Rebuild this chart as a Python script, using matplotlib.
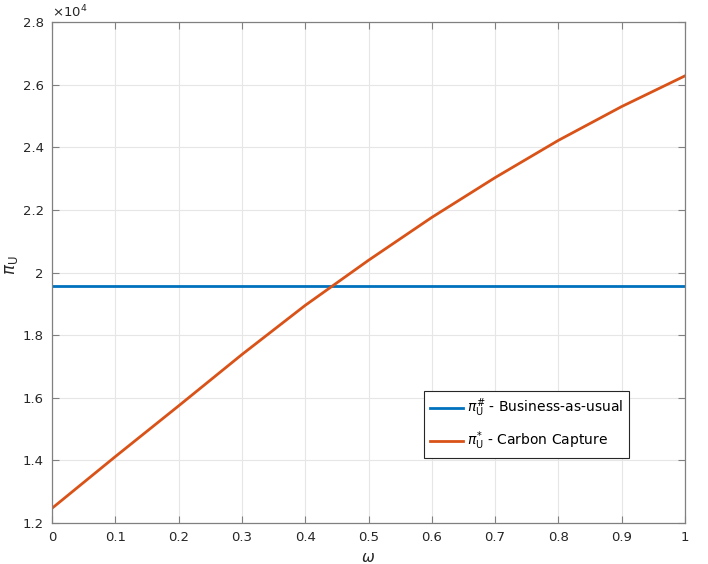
import numpy as np
import matplotlib
matplotlib.use("Agg")
import matplotlib.pyplot as plt
from matplotlib.ticker import FuncFormatter

# data
omega = [0.0, 0.1, 0.2, 0.3, 0.4, 0.5, 0.6, 0.7, 0.8, 0.9, 1.0]
pi_capture = [12470, 14120, 15740, 17380, 18950, 20390, 21760, 23030, 24220, 25300, 26280]
pi_bau = 19580

x_ticks = [0, 0.1, 0.2, 0.3, 0.4, 0.5, 0.6, 0.7, 0.8, 0.9, 1]
y_ticks = [12000, 14000, 16000, 18000, 20000, 22000, 24000, 26000, 28000]

fig = plt.figure(figsize=(7.08, 5.64), dpi=100)
ax = fig.add_axes([52 / 708, 41 / 564, 633 / 708, 501 / 564])

ax.plot([omega[0], omega[-1]], [pi_bau, pi_bau], color="#0072BD", lw=2,
        label=r"$\pi_{\rm U}^{\#}$ - Business-as-usual")
ax.plot(omega, pi_capture, color="#D95319", lw=2,
        label=r"$\pi_{\rm U}^{*}$ - Carbon Capture")

ax.set_xlim(0, 1)
ax.set_ylim(12000, 28000)
ax.set_xticks(x_ticks)
ax.set_yticks(y_ticks)
ax.xaxis.set_major_formatter(FuncFormatter(lambda v, p: f"{v:g}"))
ax.yaxis.set_major_formatter(FuncFormatter(lambda v, p: f"{v / 1e4:g}"))

ax.grid(True, color="#e6e6e6", lw=0.8)
ax.set_axisbelow(True)
for s in ax.spines.values():
    s.set_color("#808080")
    s.set_linewidth(0.9)
ax.tick_params(direction="in", top=True, right=True, length=5, width=0.8,
               color="#808080", labelsize=9.5, labelcolor="#262626", pad=6)

ax.set_xlabel(r"$\omega$", fontsize=11, color="#262626", labelpad=4)
ax.set_ylabel(r"$\pi_{\rm U}$", fontsize=12, color="#262626")
ax.yaxis.set_label_coords(-0.05, 0.515)
ax.text(0.0, 1.004, r"$\times10^{4}$", transform=ax.transAxes, fontsize=9.5,
        color="#262626", ha="left", va="bottom")

leg = ax.legend(loc="lower right", bbox_to_anchor=(0.9115, 0.1297), fontsize=10,
                borderaxespad=0, fancybox=False, framealpha=1, edgecolor="#262626",
                handlelength=2.4, handletextpad=0.3, borderpad=0.4,
                labelspacing=0.75)
leg.get_frame().set_linewidth(0.8)

fig.savefig("out.png", dpi=100)
